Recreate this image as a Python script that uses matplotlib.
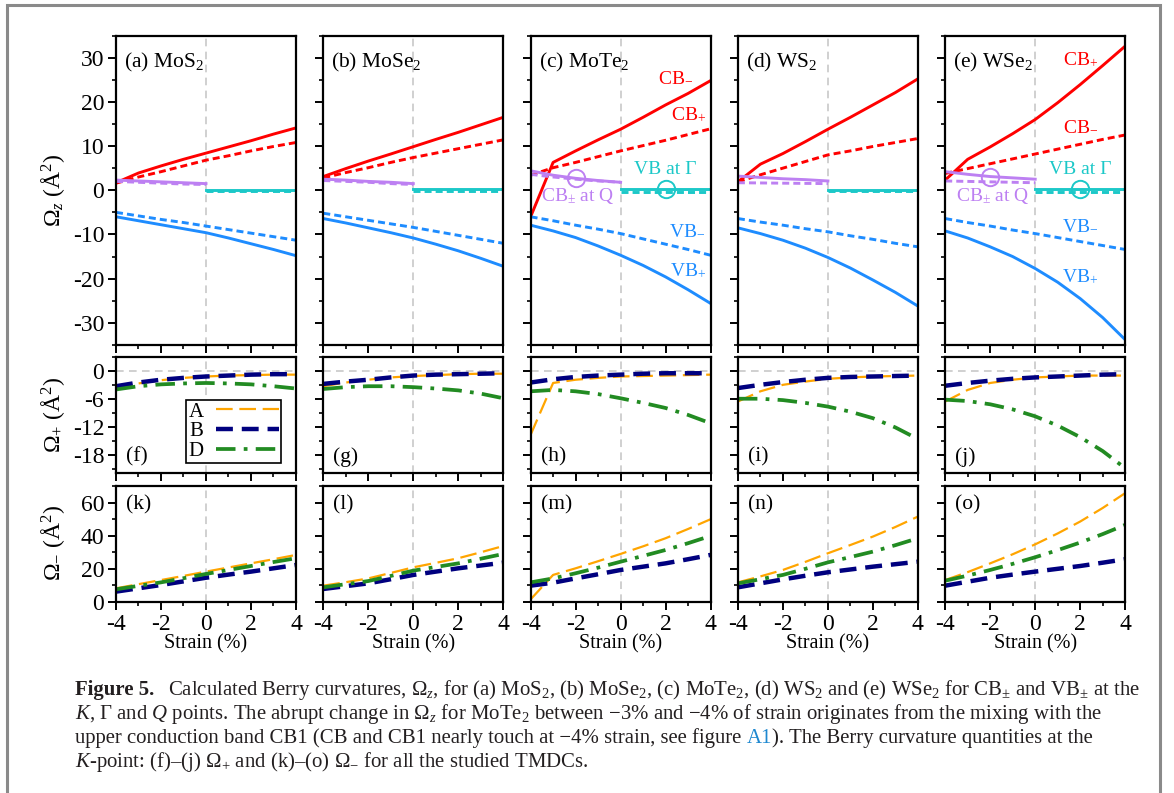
import matplotlib
matplotlib.use("Agg")
import matplotlib.pyplot as plt
from matplotlib.ticker import MultipleLocator, FixedLocator
from matplotlib.patches import Rectangle

plt.rcParams['font.family'] = ['Liberation Serif', 'DejaVu Serif']
plt.rcParams['mathtext.fontset'] = 'custom'
plt.rcParams['mathtext.rm'] = 'Liberation Serif'
plt.rcParams['mathtext.it'] = 'Liberation Serif:italic'
plt.rcParams['mathtext.bf'] = 'Liberation Serif:bold'
plt.rcParams['axes.unicode_minus'] = False

# ---------------- data ----------------
strain = [-4, -3, -2, -1, 0, 1, 2, 3, 4]
strain_Q = [-4, -3, -2, -1, 0]
strain_G = [0, 1, 2, 3, 4]
materials = ["MoS$_2$", "MoSe$_2$", "MoTe$_2$", "WS$_2$", "WSe$_2$"]
top_letters = ["(a)", "(b)", "(c)", "(d)", "(e)"]
mid_letters = ["(f)", "(g)", "(h)", "(i)", "(j)"]
bot_letters = ["(k)", "(l)", "(m)", "(n)", "(o)"]
x_ticks = [-4, -2, 0, 2, 4]
x_ticklabels = ["-4", "-2", "0", "2", "4"]
top_yticks = [-30, -20, -10, 0, 10, 20, 30]
mid_yticks = [-18, -12, -6, 0]
bot_yticks = [0, 20, 40, 60]

# Omega_z at K: conduction band (solid / dashed), valence band (solid / dashed)
cb_solid_MoS2 = [1.7, 3.9, 5.5, 7.0, 8.4, 9.8, 11.2, 12.7, 14.1]
cb_dash_MoS2 = [1.6, 3.0, 4.2, 5.5, 6.8, 7.8, 8.9, 9.9, 10.8]
vb_solid_MoS2 = [-6.0, -6.9, -7.8, -8.7, -9.6, -10.8, -12.1, -13.4, -14.8]
vb_dash_MoS2 = [-5.0, -5.8, -6.6, -7.3, -8.1, -8.9, -9.7, -10.5, -11.3]
q_solid_MoS2 = [2.3, 2.1, 1.9, 1.7, 1.5]
q_dash_MoS2 = [2.0, 1.8, 1.6, 1.4, 1.3]
g_solid_MoS2 = [0.1, 0.1, 0.1, 0.1, 0.1]
g_dash_MoS2 = [-0.1, -0.1, -0.1, -0.1, -0.1]

cb_solid_MoSe2 = [3.1, 4.9, 6.6, 8.2, 9.85, 11.5, 13.1, 14.8, 16.5]
cb_dash_MoSe2 = [2.8, 4.0, 5.1, 6.3, 7.4, 8.4, 9.4, 10.4, 11.4]
vb_solid_MoSe2 = [-6.4, -7.4, -8.5, -9.6, -10.8, -12.2, -13.7, -15.4, -17.2]
vb_dash_MoSe2 = [-5.2, -6.0, -6.8, -7.6, -8.4, -9.3, -10.2, -11.1, -12.0]
q_solid_MoSe2 = [2.5, 2.3, 2.0, 1.8, 1.5]
q_dash_MoSe2 = [2.2, 2.0, 1.8, 1.5, 1.3]
g_solid_MoSe2 = [0.3, 0.3, 0.3, 0.3, 0.3]
g_dash_MoSe2 = [-0.2, -0.2, -0.2, -0.2, -0.2]

cb_solid_MoTe2 = [-6.0, 6.3, 8.9, 11.4, 13.8, 16.5, 19.3, 21.9, 24.8]   # CB-
cb_dash_MoTe2 = [3.4, 5.1, 6.3, 7.6, 8.9, 10.1, 11.3, 12.6, 13.9]      # CB+
vb_solid_MoTe2 = [-7.9, -9.2, -10.7, -12.6, -14.7, -17.0, -19.6, -22.5, -25.6]  # VB+
vb_dash_MoTe2 = [-6.0, -6.9, -7.9, -8.8, -9.8, -11.0, -12.2, -13.4, -14.7]    # VB-
q_solid_MoTe2 = [4.4, 3.4, 2.7, 2.2, 1.8]
q_dash_MoTe2 = [3.6, 3.0, 2.5, 2.1, 1.8]
g_solid_MoTe2 = [0.2, 0.2, 0.2, 0.2, 0.2]
g_dash_MoTe2 = [-0.3, -0.3, -0.3, -0.3, -0.3]

cb_solid_WS2 = [1.9, 5.9, 8.3, 11.0, 13.8, 16.5, 19.3, 22.1, 25.2]
cb_dash_WS2 = [1.9, 3.5, 5.0, 6.5, 8.0, 8.9, 9.9, 10.8, 11.7]
vb_solid_WS2 = [-8.5, -9.8, -11.3, -13.1, -15.2, -17.6, -20.3, -23.1, -26.2]
vb_dash_WS2 = [-6.4, -7.2, -7.9, -8.7, -9.4, -10.3, -11.1, -12.0, -12.8]
q_solid_WS2 = [3.2, 2.9, 2.6, 2.4, 2.1]
q_dash_WS2 = [1.7, 1.65, 1.6, 1.55, 1.5]
g_solid_WS2 = [0.0, 0.0, 0.0, 0.0, 0.0]
g_dash_WS2 = [-0.1, -0.1, -0.1, -0.1, -0.1]

cb_solid_WSe2 = [2.3, 7.0, 9.8, 12.8, 16.0, 19.8, 23.9, 28.2, 32.6]   # CB+
cb_dash_WSe2 = [3.8, 4.9, 6.0, 7.1, 8.2, 9.3, 10.4, 11.5, 12.5]       # CB-
vb_solid_WSe2 = [-9.2, -10.8, -12.8, -15.0, -17.7, -20.8, -24.5, -28.8, -33.8]  # VB+
vb_dash_WSe2 = [-6.4, -7.3, -8.1, -9.0, -9.8, -10.7, -11.6, -12.5, -13.4]     # VB-
q_solid_WSe2 = [4.2, 3.6, 3.1, 2.8, 2.5]
q_dash_WSe2 = [2.1, 2.0, 1.9, 1.8, 1.7]
g_solid_WSe2 = [0.3, 0.3, 0.3, 0.3, 0.3]
g_dash_WSe2 = [-0.5, -0.5, -0.5, -0.5, -0.5]

# Omega_+ at K for excitons A, B, D
plus_A_MoS2 = [-3.8, -2.6, -1.9, -1.4, -1.1, -0.9, -0.8, -0.7, -0.7]
plus_B_MoS2 = [-3.2, -2.4, -1.8, -1.4, -1.1, -0.9, -0.7, -0.6, -0.6]
plus_D_MoS2 = [-3.9, -3.2, -2.8, -2.6, -2.5, -2.6, -2.8, -3.2, -3.7]
plus_A_MoSe2 = [-3.2, -2.4, -1.8, -1.3, -1.0, -0.8, -0.6, -0.5, -0.5]
plus_B_MoSe2 = [-2.7, -2.2, -1.8, -1.3, -0.9, -0.7, -0.6, -0.5, -0.4]
plus_D_MoSe2 = [-3.8, -3.4, -3.2, -3.2, -3.4, -3.7, -4.1, -4.8, -5.8]
plus_A_MoTe2 = [-13.7, -2.5, -1.8, -1.4, -1.1, -1.0, -0.9, -0.8, -0.7]
plus_B_MoTe2 = [-2.4, -1.7, -1.2, -0.9, -0.7, -0.5, -0.4, -0.4, -0.4]
plus_D_MoTe2 = [-4.3, -4.0, -4.3, -4.9, -5.8, -6.8, -7.9, -9.4, -11.2]
plus_A_WS2 = [-6.5, -4.3, -2.9, -2.2, -1.6, -1.3, -1.1, -1.0, -0.9]
plus_B_WS2 = [-3.6, -2.9, -2.3, -1.8, -1.4, -1.2, -1.1, -1.0, -0.9]
plus_D_WS2 = [-5.9, -5.9, -6.2, -6.8, -7.6, -8.7, -10.1, -12.1, -14.6]
plus_A_WSe2 = [-6.5, -4.0, -2.5, -1.8, -1.3, -1.1, -0.9, -0.9, -0.9]
plus_B_WSe2 = [-3.1, -2.5, -2.0, -1.6, -1.3, -1.1, -0.9, -0.7, -0.6]
plus_D_WSe2 = [-6.1, -6.4, -7.1, -8.2, -9.7, -11.7, -14.2, -17.2, -20.9]

# Omega_- at K for excitons A, B, D
minus_A_MoS2 = [8.1, 10.6, 13.1, 15.6, 18.2, 20.7, 23.2, 25.7, 28.3]
minus_B_MoS2 = [6.1, 8.1, 10.1, 12.3, 14.5, 16.4, 18.2, 20.2, 22.2]
minus_D_MoS2 = [7.5, 9.6, 11.7, 14.2, 16.8, 19.2, 21.6, 24.0, 26.3]
minus_A_MoSe2 = [9.7, 11.8, 14.1, 17.4, 20.8, 23.5, 26.3, 29.9, 33.7]
minus_B_MoSe2 = [7.7, 9.4, 11.1, 13.6, 16.2, 18.2, 20.2, 21.9, 23.6]
minus_D_MoSe2 = [8.7, 10.6, 12.5, 15.6, 18.8, 21.0, 23.2, 26.0, 28.9]
minus_A_MoTe2 = [1.4, 16.2, 20.2, 24.5, 28.9, 33.5, 38.4, 44.0, 49.9]
minus_B_MoTe2 = [9.7, 11.5, 14.1, 16.6, 19.2, 21.2, 23.2, 25.7, 28.3]
minus_D_MoTe2 = [11.7, 14.1, 17.2, 20.6, 24.2, 27.7, 31.3, 35.4, 39.8]
minus_A_WS2 = [11.7, 15.3, 19.2, 24.1, 29.3, 34.3, 39.4, 45.2, 51.5]
minus_B_WS2 = [8.7, 11.1, 13.5, 15.7, 17.8, 19.5, 21.2, 22.7, 24.2]
minus_D_WS2 = [11.1, 13.6, 16.2, 19.9, 23.8, 27.0, 30.3, 34.2, 38.4]
minus_A_WSe2 = [13.1, 17.9, 23.2, 28.7, 34.7, 41.3, 48.5, 56.7, 65.7]
minus_B_WSe2 = [9.7, 12.1, 14.5, 16.4, 18.2, 19.9, 21.6, 23.6, 25.7]
minus_D_WSe2 = [12.7, 15.8, 19.2, 22.9, 26.9, 31.2, 35.8, 40.9, 46.5]

top_data = [
    (cb_solid_MoS2, cb_dash_MoS2, vb_solid_MoS2, vb_dash_MoS2, q_solid_MoS2, q_dash_MoS2, g_solid_MoS2, g_dash_MoS2),
    (cb_solid_MoSe2, cb_dash_MoSe2, vb_solid_MoSe2, vb_dash_MoSe2, q_solid_MoSe2, q_dash_MoSe2, g_solid_MoSe2, g_dash_MoSe2),
    (cb_solid_MoTe2, cb_dash_MoTe2, vb_solid_MoTe2, vb_dash_MoTe2, q_solid_MoTe2, q_dash_MoTe2, g_solid_MoTe2, g_dash_MoTe2),
    (cb_solid_WS2, cb_dash_WS2, vb_solid_WS2, vb_dash_WS2, q_solid_WS2, q_dash_WS2, g_solid_WS2, g_dash_WS2),
    (cb_solid_WSe2, cb_dash_WSe2, vb_solid_WSe2, vb_dash_WSe2, q_solid_WSe2, q_dash_WSe2, g_solid_WSe2, g_dash_WSe2),
]
mid_data = [
    (plus_A_MoS2, plus_B_MoS2, plus_D_MoS2),
    (plus_A_MoSe2, plus_B_MoSe2, plus_D_MoSe2),
    (plus_A_MoTe2, plus_B_MoTe2, plus_D_MoTe2),
    (plus_A_WS2, plus_B_WS2, plus_D_WS2),
    (plus_A_WSe2, plus_B_WSe2, plus_D_WSe2),
]
bot_data = [
    (minus_A_MoS2, minus_B_MoS2, minus_D_MoS2),
    (minus_A_MoSe2, minus_B_MoSe2, minus_D_MoSe2),
    (minus_A_MoTe2, minus_B_MoTe2, minus_D_MoTe2),
    (minus_A_WS2, minus_B_WS2, minus_D_WS2),
    (minus_A_WSe2, minus_B_WSe2, minus_D_WSe2),
]
exciton_names = ["A", "B", "D"]

# ---------------- styles ----------------
RED = '#FF0000'
BLUE = '#1E8CFF'
PURPLE = '#BD80F2'
CYAN = '#1CC8C8'
ORANGE = '#FFA500'
NAVY = '#00007F'
GREEN = '#228B22'
exc_styles = [
    dict(color=ORANGE, lw=1.6, dashes=(7.5, 3.0)),
    dict(color=NAVY, lw=3.2, dashes=(3.8, 2.0)),
    dict(color=GREEN, lw=2.7, dashes=(5.2, 2.2, 1.0, 2.2)),
]
DASH = (2.4, 1.4)
FS = 14.0      # annotation text
TFS = 17.0     # tick labels
SERIF = 'Liberation Serif'

W, H = 1174, 793
fig = plt.figure(figsize=(W / 100, H / 100), dpi=100)


def fbox(x0, y0, x1, y1):
    return [x0 / W, 1 - y1 / H, (x1 - x0) / W, (y1 - y0) / H]


col_left = [116, 323.3, 530.6, 737.9, 945.2]
col_w = 180
rows = [(35.5, 345.0), (357.5, 473.3), (486.0, 601.7)]


def style(ax, yticks, ymin, ylim, ylab, xlab):
    ax.set_xlim(-4, 4)
    ax.set_ylim(*ylim)
    ax.set_xticks(x_ticks)
    ax.set_xticklabels(x_ticklabels if xlab else [], fontsize=TFS, fontfamily=SERIF)
    ax.set_yticks(yticks)
    ax.set_yticklabels([str(t) for t in yticks] if ylab else [], fontsize=TFS, fontfamily=SERIF)
    ax.xaxis.set_minor_locator(MultipleLocator(1))
    ax.yaxis.set_minor_locator(MultipleLocator(ymin))
    ax.tick_params(which='major', direction='out', length=5.5, width=1.4, pad=3.0)
    ax.tick_params(which='minor', direction='out', length=3.2, width=1.2)
    for s in ax.spines.values():
        s.set_linewidth(1.6)
    ax.axvline(0, color='#c4c4c4', lw=1.1, dashes=(5, 3.5), zorder=0)


for i in range(5):
    x0 = col_left[i]
    x1 = x0 + col_w
    # ---- top row ----
    ax = fig.add_axes(fbox(x0, rows[0][0], x1, rows[0][1]))
    style(ax, top_yticks, 5, (-35, 35), i == 0, False)
    cbs, cbd, vbs, vbd, qs, qd, gs, gd = top_data[i]
    ax.plot(strain, cbs, color=RED, lw=2.1)
    ax.plot(strain, cbd, color=RED, lw=2.1, dashes=DASH)
    ax.plot(strain, vbs, color=BLUE, lw=2.1)
    ax.plot(strain, vbd, color=BLUE, lw=2.1, dashes=DASH)
    ax.plot(strain_Q, qs, color=PURPLE, lw=2.1)
    ax.plot(strain_Q, qd, color=PURPLE, lw=2.1, dashes=DASH)
    ax.plot(strain_G, gs, color=CYAN, lw=2.1)
    ax.plot(strain_G, gd, color=CYAN, lw=2.1, dashes=DASH)
    ax.text(0.045, 0.912, top_letters[i] + " " + materials[i], transform=ax.transAxes,
            fontsize=FS + 1.5, va='center', ha='left')
    if i in (2, 4):
        ax.plot([strain_Q[2]], [qs[2]], 'o', ms=12.5, mfc='none', mec=PURPLE, mew=1.4)
        ax.plot([strain_G[2]], [gs[2]], 'o', ms=12.5, mfc='none', mec=CYAN, mew=1.4)
        ax.text(2.0, 4.6, "VB at Γ", color=CYAN, fontsize=FS, ha='center', va='center')
        ax.text(-1.9, -1.2, "CB$_{\\pm}$ at Q", color=PURPLE, fontsize=FS, ha='center', va='center')
    if i == 2:
        ax.text(2.45, 25.5, "CB$_{-}$", color=RED, fontsize=FS, ha='center', va='center')
        ax.text(3.0, 17.0, "CB$_{+}$", color=RED, fontsize=FS, ha='center', va='center')
        ax.text(2.95, -9.0, "VB$_{-}$", color=BLUE, fontsize=FS, ha='center', va='center')
        ax.text(3.0, -18.3, "VB$_{+}$", color=BLUE, fontsize=FS, ha='center', va='center')
    if i == 4:
        ax.text(2.0, 29.6, "CB$_{+}$", color=RED, fontsize=FS, ha='center', va='center')
        ax.text(2.0, 14.5, "CB$_{-}$", color=RED, fontsize=FS, ha='center', va='center')
        ax.text(2.0, -7.9, "VB$_{-}$", color=BLUE, fontsize=FS, ha='center', va='center')
        ax.text(2.0, -19.6, "VB$_{+}$", color=BLUE, fontsize=FS, ha='center', va='center')

    # ---- middle row ----
    ax = fig.add_axes(fbox(x0, rows[1][0], x1, rows[1][1]))
    style(ax, mid_yticks, 3, (-22, 3), i == 0, False)
    ax.axhline(0, color='#c4c4c4', lw=1.1, dashes=(5, 3.5), zorder=0)
    for name, ys, st in zip(exciton_names, mid_data[i], exc_styles):
        ax.plot(strain, ys, label=name, **st)
    ax.text(0.055, 0.14, mid_letters[i], transform=ax.transAxes, fontsize=FS + 1.5,
            va='center', ha='left')
    if i == 0:
        leg = ax.legend(loc='lower right', bbox_to_anchor=(0.915, 0.09), borderaxespad=0,
                        markerfirst=False, handlelength=3.0, fontsize=FS + 1, frameon=True,
                        fancybox=False, edgecolor='black', framealpha=1,
                        borderpad=0.1, labelspacing=0.0, handletextpad=0.6)
        leg.get_frame().set_linewidth(1.2)

    # ---- bottom row ----
    ax = fig.add_axes(fbox(x0, rows[2][0], x1, rows[2][1]))
    style(ax, bot_yticks, 10, (0, 70), i == 0, True)
    for name, ys, st in zip(exciton_names, bot_data[i], exc_styles):
        ax.plot(strain, ys, **st)
    ax.text(0.055, 0.84, bot_letters[i], transform=ax.transAxes, fontsize=FS + 1.5,
            va='center', ha='left')
    ax.set_xlabel("Strain (%)", fontsize=FS + 0.5, labelpad=0)

# y labels
fig.text(53 / W, 1 - 190 / H, "$\\Omega_z$ (Å$^2$)", rotation=90, ha='center', va='center', fontsize=17)
fig.text(53 / W, 1 - 415 / H, "$\\Omega_{+}$ (Å$^2$)", rotation=90, ha='center', va='center', fontsize=17)
fig.text(53 / W, 1 - 543 / H, "$\\Omega_{-}$ (Å$^2$)", rotation=90, ha='center', va='center', fontsize=17)

# outer frame (page snippet)
fig.add_artist(Rectangle((7 / W, -0.05), (1160 - 7) / W, 1.05 - 5 / H, transform=fig.transFigure,
                         fill=False, edgecolor='#8a8a8a', lw=2.2))

# ---------------- caption ----------------
CFS = 14.95
TXT = '#231F20'
renderer = fig.canvas.get_renderer()


def tw(s, **kw):
    t = fig.text(0, 0, s, fontsize=CFS, **kw)
    w = t.get_window_extent(renderer).width
    t.remove()
    return w


space_w = tw("x x") - tw("xx")


def draw_piece(s, x, y, **kw):
    fig.text(x / W, 1 - y / H, s, fontsize=CFS, va='baseline', ha='left', **kw)
    return x + tw(s, **kw)


cx = 75
x = draw_piece("Figure 5.", cx, 695, color=TXT, fontweight='bold')
draw_piece("Calculated Berry curvatures, $\\Omega_z$, for (a) MoS$_2$, (b) MoSe$_2$, (c) MoTe$_2$, "
           "(d) WS$_2$ and (e) WSe$_2$ for CB$_{\\pm}$ and VB$_{\\pm}$ at the", x + 2.6 * space_w, 695, color=TXT)
draw_piece("$K$, Γ and $Q$ points. The abrupt change in $\\Omega_z$ for MoTe$_2$ between −3% and −4% "
           "of strain originates from the mixing with the", cx, 719, color=TXT)
x = draw_piece("upper conduction band CB1 (CB and CB1 nearly touch at −4% strain, see figure", cx, 743, color=TXT)
x = draw_piece("A1", x + space_w, 743, color='#1E88D0')
draw_piece("). The Berry curvature quantities at the", x, 743, color=TXT)
draw_piece("$K$-point: (f)–(j) $\\Omega_{+}$ and (k)–(o) $\\Omega_{-}$ for all the studied TMDCs.", cx, 767, color=TXT)

fig.savefig("out.png", dpi=100)
